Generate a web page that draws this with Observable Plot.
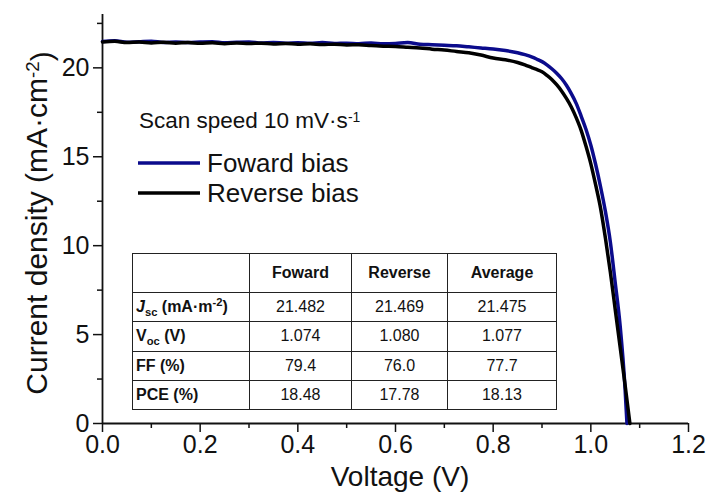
<!DOCTYPE html>
<html>
<head>
<meta charset="utf-8">
<script src="https://cdn.jsdelivr.net/npm/d3@7"></script>
<script src="https://cdn.jsdelivr.net/npm/@observablehq/plot@0.6"></script>
<style>
  html, body { margin: 0; padding: 0; background: white; }
  #wrap { position: relative; width: 710px; height: 492px; font-family: "Liberation Sans", Arial, sans-serif; }
  #tbl { position: absolute; left: 132px; top: 253px; border-collapse: collapse; border: 1.5px solid #222;
         font-family: "Liberation Sans", Arial, sans-serif; font-size: 16px; color: #111; table-layout: fixed; }
  #tbl td, #tbl th { border: 1.2px solid #222; padding: 0 3px; text-align: center; box-sizing: border-box; }
  #tbl th { font-weight: bold; }
  #tbl td.lab { text-align: left; font-weight: bold; }
  #tbl sub, #tbl sup { font-size: 0.7em; line-height: 0; }
  svg text { font-family: "Liberation Sans", Arial, sans-serif; }
</style>
</head>
<body>
<div id="wrap"></div>
<script>
// ---- data ----
const voltageForward = [0,0.025,0.05,0.075,0.1,0.125,0.15,0.175,0.2,0.225,0.25,0.275,0.3,0.325,0.35,0.375,0.4,0.425,0.45,0.475,0.5,0.525,0.55,0.575,0.6,0.625,0.65,0.675,0.7,0.725,0.75,0.775,0.8,0.825,0.85,0.865,0.88,0.89,0.9,0.91,0.92,0.93,0.94,0.95,0.96,0.97,0.98,0.99,1.0,1.01,1.02,1.03,1.04,1.05,1.06,1.07,1.074];
const currentForward = [21.48,21.52,21.44,21.47,21.50,21.43,21.46,21.42,21.45,21.47,21.41,21.44,21.46,21.40,21.43,21.39,21.41,21.38,21.42,21.37,21.39,21.36,21.40,21.35,21.37,21.42,21.33,21.30,21.27,21.24,21.18,21.12,21.06,20.97,20.85,20.74,20.60,20.48,20.35,20.17,19.95,19.70,19.40,19.02,18.55,18.0,17.3,16.55,15.65,14.55,13.3,11.9,10.2,7.9,5.5,2.0,0];
const voltageReverse = [0,0.025,0.05,0.075,0.1,0.125,0.15,0.175,0.2,0.225,0.25,0.275,0.3,0.325,0.35,0.375,0.4,0.425,0.45,0.475,0.5,0.525,0.55,0.575,0.6,0.625,0.65,0.675,0.7,0.725,0.75,0.775,0.8,0.825,0.85,0.865,0.88,0.89,0.9,0.91,0.92,0.93,0.94,0.95,0.96,0.97,0.98,0.99,1.0,1.01,1.02,1.03,1.04,1.05,1.06,1.07,1.08];
const currentReverse = [21.46,21.49,21.42,21.45,21.40,21.44,21.39,21.42,21.38,21.41,21.36,21.40,21.37,21.39,21.34,21.37,21.33,21.35,21.31,21.33,21.29,21.30,21.25,21.22,21.20,21.16,21.12,21.05,21.00,20.92,20.85,20.72,20.55,20.45,20.30,20.17,20.0,19.9,19.78,19.58,19.35,19.05,18.7,18.28,17.8,17.2,16.5,15.6,14.6,13.4,12.1,10.4,8.5,6.4,4.3,2.2,0];

const xMajorTicks = [0,0.2,0.4,0.6,0.8,1.0,1.2];
const xMinorTicks = [0.1,0.3,0.5,0.7,0.9,1.1];
const yMajorTicks = [0,5,10,15,20];
const yMinorTicks = [2.5,7.5,12.5,17.5,22.5];

const seriesNames = ["Foward bias", "Reverse bias"];
const seriesColors = ["#0b0b8c", "#000000"];

const tableHeader = ["", "Foward", "Reverse", "Average"];
const tableRowLabels = ['<i>J</i><sub>sc</sub> (mA·m<sup>-2</sup>)', 'V<sub>oc</sub> (V)', 'FF (%)', 'PCE (%)'];
const tableForward = ["21.482", "1.074", "79.4", "18.48"];
const tableReverse = ["21.469", "1.080", "76.0", "17.78"];
const tableAverage = ["21.475", "1.077", "77.7", "18.13"];

// ---- build ----
const fwd = voltageForward.map((v, i) => ({v, j: currentForward[i]}));
const rev = voltageReverse.map((v, i) => ({v, j: currentReverse[i]}));

const font = '"Liberation Sans", Arial, sans-serif';
const chart = Plot.plot({
  width: 710, height: 492,
  marginLeft: 102, marginRight: 22, marginTop: 14, marginBottom: 69,
  x: {domain: [0, 1.2]},
  y: {domain: [0, 23]},
  style: {fontFamily: font, fontSize: "25px", color: "#111", background: "white", overflow: "visible"},
  marks: [
    Plot.axisX({ticks: xMajorTicks, tickSize: 9, tickPadding: 3, tickFormat: d => d.toFixed(1), label: null, strokeWidth: 1.5, fontSize: 25}),
    Plot.axisX({ticks: xMinorTicks, tickSize: 5, tickFormat: () => "", label: null, strokeWidth: 1.5}),
    Plot.axisY({ticks: yMajorTicks, tickSize: 9, tickPadding: 4, tickFormat: d => String(d), label: null, strokeWidth: 1.5, fontSize: 25}),
    Plot.axisY({ticks: yMinorTicks, tickSize: 5, tickFormat: () => "", label: null, strokeWidth: 1.5}),
    Plot.ruleX([0], {strokeWidth: 1.8}),
    Plot.ruleY([0], {strokeWidth: 1.8}),
    Plot.line(fwd, {x: "v", y: "j", stroke: seriesColors[0], strokeWidth: 3.5, curve: "monotone-x"}),
    Plot.line(rev, {x: "v", y: "j", stroke: seriesColors[1], strokeWidth: 3.5, curve: "monotone-x"})
  ]
});

const wrap = document.getElementById("wrap");
wrap.appendChild(chart);
const svg = d3.select(chart);

// y-axis title
const yt = svg.append("text")
  .attr("transform", "translate(47,223) rotate(-90)")
  .attr("text-anchor", "middle")
  .attr("font-size", 30).attr("fill", "#111");
yt.append("tspan").text("Current density (mA·cm");
yt.append("tspan").attr("dy", "-0.45em").attr("font-size", "0.62em").text("-2");
yt.append("tspan").attr("dy", "0.45em").text(")");

// x-axis title
svg.append("text")
  .attr("x", 400).attr("y", 486)
  .attr("text-anchor", "middle")
  .attr("font-size", 28).attr("fill", "#111")
  .text("Voltage (V)");

// legend
const st = svg.append("text").attr("x", 139).attr("y", 128)
  .attr("text-anchor", "start")
  .attr("font-size", 22.5).attr("fill", "#111");
st.append("tspan").text("Scan speed 10 mV·s");
st.append("tspan").attr("dy", "-0.45em").attr("font-size", "0.62em").text("-1");

const legendY = [163, 193];
seriesNames.forEach((name, i) => {
  svg.append("line").attr("x1", 138).attr("x2", 200).attr("y1", legendY[i]).attr("y2", legendY[i])
    .attr("stroke", seriesColors[i]).attr("stroke-width", 3.5);
  svg.append("text").attr("x", 207).attr("y", legendY[i] + 8.5)
    .attr("text-anchor", "start")
    .attr("font-size", 26).attr("fill", "#111").text(name);
});

// inset table
const colW = [117, 102, 96, 109];
const rowH = [39, 29, 29.5, 29.5, 29];
const tbl = document.createElement("table");
tbl.id = "tbl";
let html = "<colgroup>" + colW.map(w => `<col style="width:${w}px">`).join("") + "</colgroup>";
html += `<tr style="height:${rowH[0]}px">` + tableHeader.map(h => `<th>${h}</th>`).join("") + "</tr>";
tableRowLabels.forEach((lab, i) => {
  html += `<tr style="height:${rowH[i+1]}px"><td class="lab">${lab}</td><td>${tableForward[i]}</td><td>${tableReverse[i]}</td><td>${tableAverage[i]}</td></tr>`;
});
tbl.innerHTML = html;
tbl.style.width = colW.reduce((a, b) => a + b, 0) + "px";
wrap.appendChild(tbl);
</script>
</body>
</html>
